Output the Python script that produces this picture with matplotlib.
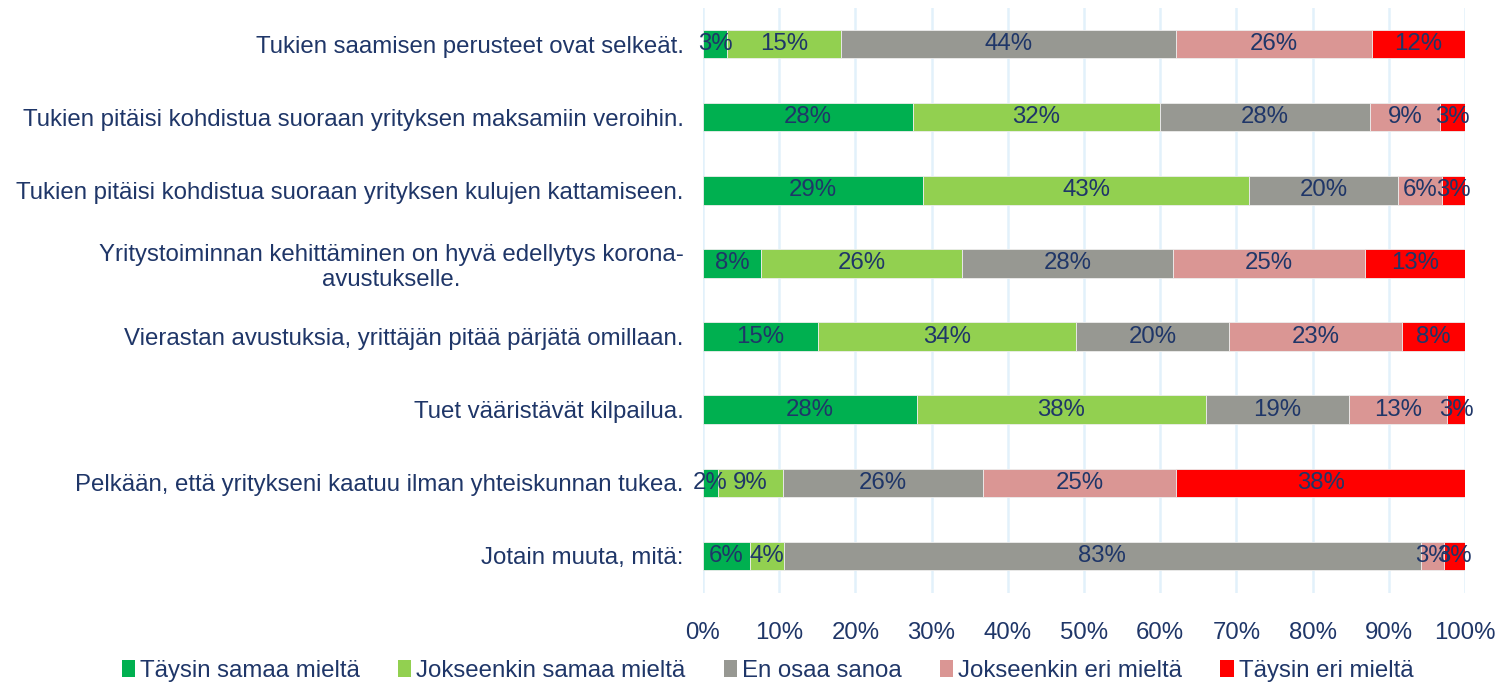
import matplotlib
matplotlib.use("Agg")
import matplotlib.pyplot as plt
from matplotlib.patches import Patch
import numpy as np

categories = [
    "Tukien saamisen perusteet ovat selkeät.",
    "Tukien pitäisi kohdistua suoraan yrityksen maksamiin veroihin.",
    "Tukien pitäisi kohdistua suoraan yrityksen kulujen kattamiseen.",
    "Yritystoiminnan kehittäminen on hyvä edellytys korona-\navustukselle.",
    "Vierastan avustuksia, yrittäjän pitää pärjätä omillaan.",
    "Tuet vääristävät kilpailua.",
    "Pelkään, että yritykseni kaatuu ilman yhteiskunnan tukea.",
    "Jotain muuta, mitä:",
]
series_names = ["Täysin samaa mieltä", "Jokseenkin samaa mieltä", "En osaa sanoa",
                "Jokseenkin eri mieltä", "Täysin eri mieltä"]
taysin_samaa = [3.2, 27.5, 28.9, 7.6, 15.1, 28.1, 2.0, 6.2]
jokseenkin_samaa = [14.9, 32.5, 42.8, 26.4, 33.9, 37.9, 8.5, 4.4]
en_osaa = [44.0, 27.5, 19.5, 27.7, 20.0, 18.8, 26.2, 83.6]
jokseenkin_eri = [25.7, 9.2, 5.8, 25.2, 22.7, 12.8, 25.4, 3.0]
taysin_eri = [12.2, 3.3, 3.0, 13.1, 8.3, 2.5, 37.9, 2.8]
labels = [
    ["3%", "28%", "29%", "8%", "15%", "28%", "2%", "6%"],
    ["15%", "32%", "43%", "26%", "34%", "38%", "9%", "4%"],
    ["44%", "28%", "20%", "28%", "20%", "19%", "26%", "83%"],
    ["26%", "9%", "6%", "25%", "23%", "13%", "25%", "3%"],
    ["12%", "3%", "3%", "13%", "8%", "3%", "38%", "3%"],
]
xticks = [0, 10, 20, 30, 40, 50, 60, 70, 80, 90, 100]

colors = ["#00B050", "#92D050", "#979892", "#DA9694", "#FF0000"]
navy = "#1F3668"
fs = 17.3

plt.rcParams['font.family'] = ['Liberation Sans', 'DejaVu Sans']

fig = plt.figure(figsize=(14.96, 6.83), dpi=100)
ax = fig.add_axes([703/1496, 1 - 592.5/683, 762/1496, 585/683])

data = [taysin_samaa, jokseenkin_samaa, en_osaa, jokseenkin_eri, taysin_eri]
y = np.arange(len(categories))
left = np.zeros(len(categories))
for i, vals in enumerate(data):
    vals = np.array(vals)
    ax.barh(y, vals, left=left, height=0.39, color=colors[i],
            edgecolor="#EDEDED", linewidth=0.6, zorder=3)
    for j, v in enumerate(vals):
        ax.text(left[j] + v / 2, y[j], labels[i][j], ha="center", va="center",
                fontsize=fs, color=navy, zorder=4)
    left += vals

ax.set_xlim(0, 100)
ax.set_ylim(len(categories) - 0.5, -0.5)
ax.set_xticks(xticks)
ax.set_xticklabels([f"{t}%" for t in xticks], fontsize=fs, color=navy)
ax.set_yticks(y)
ax.set_yticklabels(categories, fontsize=fs, color=navy, multialignment="center")
ax.tick_params(axis="both", length=0)
ax.tick_params(axis="y", pad=14)
ax.tick_params(axis="x", pad=21)
ax.grid(axis="x", color="#E2F1FB", linewidth=1.8, zorder=0)
for s in ax.spines.values():
    s.set_visible(False)

handles = [Patch(facecolor=c, edgecolor="none") for c in colors]
fig.legend(handles, series_names, loc="lower center", ncol=5, frameon=False,
           fontsize=fs, labelcolor=navy, handlelength=0.55, handleheight=0.75,
           handletextpad=0.2, columnspacing=1.6, bbox_to_anchor=(0.513, -0.03))

fig.savefig("out.png", dpi=100)
